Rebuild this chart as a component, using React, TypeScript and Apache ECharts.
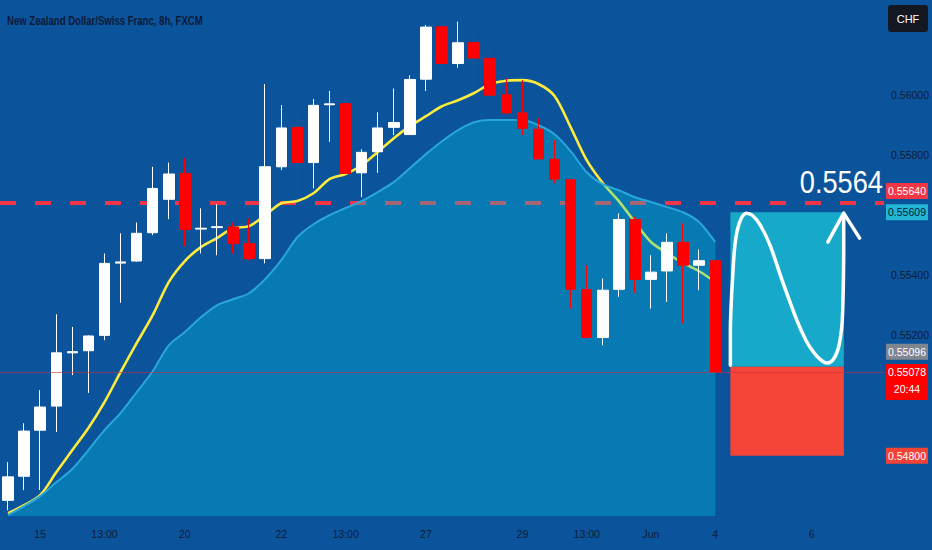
import React, { useEffect, useRef } from "react";
import * as echarts from "echarts";

const chartTitle = "New Zealand Dollar/Swiss Franc, 8h, FXCM";
const currencyLabel = "CHF";

// 8h candles (index 0..44), then empty future slots up to 54
const slotCount = 55;
const categories = Array.from({ length: slotCount }, (_, i) => "c" + i);
const xTickLabels: [number, string][] = [
  [2, "15"], [6, "13:00"], [11, "20"], [17, "22"], [21, "13:00"], [26, "27"],
  [32, "29"], [36, "13:00"], [40, "Jun"], [44, "4"], [50, "6"],
];
const yTickLabelsHidden = [0.546, 0.548, 0.55, 0.556, 0.562];

const candleOpen = [
  0.54652, 0.54732, 0.54885, 0.54965, 0.55142, 0.55149, 0.55200, 0.55440, 0.55447, 0.55541,
  0.55652, 0.55738, 0.55553, 0.55558, 0.55560, 0.55505, 0.55455, 0.55760, 0.55891, 0.55774,
  0.55966, 0.55970, 0.55740, 0.55810, 0.55891, 0.55867, 0.56051, 0.56225, 0.56103, 0.56173,
  0.56120, 0.55999, 0.55939, 0.55885, 0.55785, 0.55717, 0.55352, 0.55193, 0.55353, 0.55585,
  0.55386, 0.55414, 0.55509, 0.55433, 0.55448,
];
const candleClose = [
  0.54730, 0.54882, 0.54962, 0.55142, 0.55146, 0.55198, 0.55439, 0.55444, 0.55539, 0.55688,
  0.55736, 0.55552, 0.55556, 0.55561, 0.55505, 0.55455, 0.55760, 0.55889, 0.55774, 0.55964,
  0.55969, 0.55738, 0.55808, 0.55889, 0.55907, 0.56050, 0.56224, 0.56103, 0.56172, 0.56121,
  0.55998, 0.55939, 0.55888, 0.55786, 0.55719, 0.55353, 0.55193, 0.55350, 0.55585, 0.55386,
  0.55410, 0.55509, 0.55433, 0.55448, 0.55078,
];
const candleLow = [
  0.54619, 0.54686, 0.54686, 0.54879, 0.55068, 0.55009, 0.55184, 0.55308, 0.55445, 0.55533,
  0.55586, 0.55496, 0.55472, 0.55466, 0.55472, 0.55450, 0.55439, 0.55749, 0.55666, 0.55688,
  0.55843, 0.55736, 0.55659, 0.55740, 0.55865, 0.55867, 0.56012, 0.56078, 0.56089, 0.56015,
  0.55992, 0.55937, 0.55865, 0.55786, 0.55705, 0.55289, 0.55193, 0.55167, 0.55328, 0.55341,
  0.55289, 0.55311, 0.55240, 0.55350, 0.54952,
];
const candleHigh = [
  0.54779, 0.54908, 0.55018, 0.55270, 0.55228, 0.55200, 0.55472, 0.55539, 0.55575, 0.55760,
  0.55774, 0.55788, 0.55622, 0.55636, 0.55574, 0.55588, 0.56035, 0.55965, 0.55937, 0.55985,
  0.56012, 0.55991, 0.55818, 0.55941, 0.56020, 0.56064, 0.56231, 0.56241, 0.56242, 0.56206,
  0.56150, 0.56053, 0.56048, 0.55921, 0.55849, 0.55717, 0.55433, 0.55389, 0.55605, 0.55594,
  0.55466, 0.55539, 0.55572, 0.55485, 0.55448,
];

// fast moving average (yellow)
const maValues = [
  0.54609, 0.54636, 0.54669, 0.54745, 0.54819, 0.54892, 0.54978, 0.55078, 0.55174, 0.55267,
  0.55377, 0.55447, 0.55493, 0.55523, 0.55556, 0.55563, 0.55599, 0.55639, 0.55646, 0.55672,
  0.55719, 0.55736, 0.55765, 0.55809, 0.55855, 0.55895, 0.55928, 0.55961, 0.55981, 0.56005,
  0.56035, 0.56046, 0.56048, 0.56035, 0.55995, 0.55892, 0.55782, 0.55706, 0.55646, 0.55576,
  0.55510, 0.55473, 0.55440, 0.55413, 0.55377,
];
// slow moving average (filled area)
const areaValues = [
  0.54603, 0.54633, 0.54666, 0.54712, 0.54756, 0.54819, 0.54885, 0.54942, 0.55011, 0.55081,
  0.55167, 0.55211, 0.55260, 0.55300, 0.55320, 0.55340, 0.55387, 0.55450, 0.55526, 0.55569,
  0.55599, 0.55623, 0.55646, 0.55676, 0.55709, 0.55755, 0.55802, 0.55845, 0.55882, 0.55908,
  0.55915, 0.55915, 0.55915, 0.55898, 0.55868, 0.55812, 0.55742, 0.55702, 0.55682, 0.55659,
  0.55643, 0.55626, 0.55609, 0.55576, 0.55510,
];

const targetLevel = 0.5564;
const targetText = "0.5564";
const lastPrice = 0.55078;
const entryPrice = 0.55096;
const takeProfit = 0.55609;
const stopLoss = 0.548;
const boxFrom = 44.94;
const boxTo = 52.0;

// hand-drawn wave (slot index, price)
const waveX = [44.94, 44.94, 45.0, 45.07, 45.19, 45.37, 45.62, 45.93, 46.3, 46.8, 47.41, 48.16, 49.08, 49.64, 50.07, 50.51, 50.94, 51.31, 51.62, 51.81, 51.9, 51.96, 51.99, 51.99];
const waveY = [0.55101, 0.55217, 0.55317, 0.55383, 0.55483, 0.55549, 0.55589, 0.55606, 0.55599, 0.55566, 0.55499, 0.55383, 0.5525, 0.55184, 0.55147, 0.55121, 0.55108, 0.55118, 0.55151, 0.55201, 0.5525, 0.5535, 0.55483, 0.55596];
const arrowX = [51.0, 51.99, 52.98];
const arrowY = [0.5551, 0.55606, 0.55523];

const priceTags = [
  { value: 0.5564, lines: ["0.55640"], bg: "#f23645", fg: "#ffffff", shift: -12 },
  { value: 0.55609, lines: ["0.55609"], bg: "#22b5d4", fg: "#0b1a36", shift: 0 },
  { value: 0.55096, lines: ["0.55096"], bg: "#80868f", fg: "#ffffff", shift: -15 },
  { value: 0.55078, lines: ["0.55078", "20:44"], bg: "#ff0000", fg: "#ffffff", shift: 0 },
  { value: 0.548, lines: ["0.54800"], bg: "#f44336", fg: "#ffffff", shift: 0 },
];

const FONT = "'Liberation Sans', Arial, sans-serif";
const BG = "#0b549c";
const LABEL = "#0e1b36";

export default function App() {
  const ref = useRef<HTMLDivElement>(null);
  useEffect(() => {
    document.body.style.margin = "0";
    const chart = echarts.init(ref.current!, null, { renderer: "svg" });
    const tickMap: Record<number, string> = {};
    xTickLabels.forEach(([i, t]) => (tickMap[i] = t));
    const ohlc = candleOpen.map((o, i) => [o, candleClose[i], candleLow[i], candleHigh[i]]);

    chart.setOption({
      animation: false,
      backgroundColor: BG,
      textStyle: { fontFamily: FONT },
      grid: { left: -4.8, right: 47.4, top: 0, bottom: 34 },
      xAxis: [
        {
          type: "category",
          data: categories,
          boundaryGap: true,
          axisLine: { show: false },
          axisTick: { show: false },
          splitLine: { show: false },
          axisLabel: {
            interval: 0,
            margin: 12,
            color: LABEL,
            fontSize: 10.5,
            fontFamily: FONT,
            formatter: (_v: string, i: number) => tickMap[i] ?? "",
          },
        },
        { type: "value", min: -0.5, max: slotCount - 0.5, show: false },
      ],
      yAxis: {
        type: "value",
        position: "right",
        min: 0.546,
        max: 0.56314,
        interval: 0.002,
        axisLine: { show: false },
        axisTick: { show: false },
        splitLine: { show: false },
        axisLabel: {
          margin: 7,
          color: LABEL,
          fontSize: 10.5,
          fontFamily: FONT,
          showMaxLabel: false,
          formatter: (v: number) =>
            yTickLabelsHidden.some((h) => Math.abs(h - v) < 1e-6) ? "" : v.toFixed(5),
        },
      },
      series: [
        {
          name: "MA fast",
          type: "line",
          z: 1,
          data: maValues,
          smooth: 0.3,
          symbol: "none",
          lineStyle: { color: "#ffeb3b", width: 2.6 },
          markLine: {
            z: 1,
            silent: true,
            precision: 5,
            symbol: ["none", "none"],
            lineStyle: { color: "#f23645", width: 4, type: [16, 19] },
            label: { show: false },
            data: [{ yAxis: targetLevel }],
          },
        },
        {
          name: "MA slow",
          type: "line",
          z: 2,
          data: areaValues,
          smooth: 0.3,
          symbol: "none",
          lineStyle: { color: "#2aa7da", width: 2 },
          areaStyle: { color: "rgba(0, 205, 230, 0.45)" },
        },
        {
          name: "NZDCHF",
          type: "candlestick",
          z: 3,
          data: ohlc,
          barWidth: 11,
          itemStyle: {
            color: "#ffffff",
            color0: "#ff0000",
            borderColor: "#ffffff",
            borderColor0: "#ff0000",
            borderWidth: 1,
          },
          markLine: {
            z: 4,
            silent: true,
            precision: 5,
            symbol: ["none", "none"],
            label: { show: false },
            lineStyle: { color: "#c8303a", width: 1, type: "solid", opacity: 0.6 },
            data: [{ yAxis: lastPrice }],
          },
        },
        {
          name: "wave",
          type: "line",
          xAxisIndex: 1,
          z: 5,
          data: waveX.map((x, i) => [x, waveY[i]]),
          smooth: 0.3,
          symbol: "none",
          lineStyle: { color: "#ffffff", width: 3.5, cap: "round", join: "round" },
          markArea: {
            z: 1,
            silent: true,
            label: { show: false },
            data: [
              [
                { xAxis: boxFrom, yAxis: takeProfit, itemStyle: { color: "#17a9c9" } },
                { xAxis: boxTo, yAxis: entryPrice },
              ],
              [
                { xAxis: boxFrom, yAxis: entryPrice, itemStyle: { color: "#f44538" } },
                { xAxis: boxTo, yAxis: stopLoss },
              ],
            ],
          },
        },
        {
          name: "arrow",
          type: "line",
          xAxisIndex: 1,
          z: 5,
          data: arrowX.map((x, i) => [x, arrowY[i]]),
          symbol: "none",
          lineStyle: { color: "#ffffff", width: 3.5, cap: "round", join: "round" },
        },
      ],
    });

    const targetY = chart.convertToPixel({ yAxisIndex: 0 }, targetLevel) as number;
    const gfx: any[] = [
      {
        type: "text",
        x: 7,
        y: 19.5,
        z: 100,
        scaleX: 0.71,
        style: {
          text: chartTitle,
          fill: "#0c1a38",
          fontSize: 13.5,
          fontWeight: "bold",
          fontFamily: FONT,
          verticalAlign: "middle",
        },
      },
      {
        type: "text",
        x: 883,
        y: targetY - 21,
        z: 100,
        scaleX: 0.85,
        style: {
          text: targetText,
          fill: "#ffffff",
          fontSize: 32,
          fontFamily: FONT,
          align: "right",
          verticalAlign: "middle",
        },
      },
      {
        type: "rect",
        z: 100,
        shape: { x: 888, y: 5, width: 40, height: 27, r: 3 },
        style: { fill: "#131722" },
      },
      {
        type: "text",
        z: 101,
        x: 908,
        y: 18.5,
        style: { text: currencyLabel, fill: "#ffffff", fontSize: 11, fontFamily: FONT, align: "center", verticalAlign: "middle" },
      },
    ];
    priceTags.forEach((tag) => {
      const yc = (chart.convertToPixel({ yAxisIndex: 0 }, tag.value) as number) + tag.shift;
      const h = tag.lines.length > 1 ? 36 : 16;
      const top = yc - 8;
      gfx.push({
        type: "rect",
        z: 100,
        shape: { x: 886, y: top, width: 42, height: h },
        style: { fill: tag.bg },
      });
      tag.lines.forEach((line, k) => {
        gfx.push({
          type: "text",
          z: 101,
          x: 907,
          y: yc + k * 17,
          style: { text: line, fill: tag.fg, fontSize: 10.5, fontFamily: FONT, align: "center", verticalAlign: "middle" },
        });
      });
    });
    chart.setOption({ graphic: gfx });
    return () => chart.dispose();
  }, []);
  return <div ref={ref} style={{ position: "fixed", left: 0, top: 0, width: 932, height: 550 }} />;
}
